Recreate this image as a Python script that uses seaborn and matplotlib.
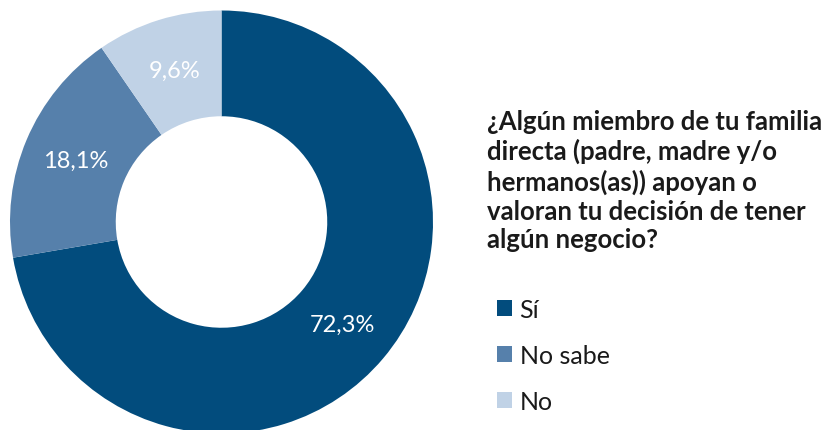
import numpy as np
import matplotlib.pyplot as plt
import seaborn as sns
from matplotlib.patches import Patch

categories = ["Sí", "No sabe", "No"]
values = [72.3, 18.1, 9.6]
pct_labels = ["72,3%", "18,1%", "9,6%"]
colors = ["#024c7d", "#5680ab", "#c0d2e6"]
title = ("¿Algún miembro de tu familia\ndirecta (padre, madre y/o\n"
         "hermanos(as)) apoyan o\nvaloran tu decisión de tener\nalgún negocio?")

sns.set_theme(style="white")
plt.rcParams["font.family"] = ["Lato", "DejaVu Sans"]

W, H = 831, 431
fig = plt.figure(figsize=(W / 100, H / 100), dpi=100)

# donut axes: centre (221.5, 208) px from bottom, radius 211.5 px
R = 211.5
ax = fig.add_axes([(221.5 - R) / W, (208 - R) / H, 2 * R / W, 2 * R / H])
wedges, _ = ax.pie(values, colors=colors, startangle=90, counterclock=False,
                   radius=1, wedgeprops=dict(width=0.5, linewidth=0))
ax.set_xlim(-1, 1)
ax.set_ylim(-1, 1)
ax.set_aspect("equal")
ax.axis("off")

# percentage labels in the middle of the ring
ang = 90.0
for v, lab in zip(values, pct_labels):
    mid = np.deg2rad(ang - v * 3.6 / 2)
    ax.text(0.75 * np.cos(mid), 0.75 * np.sin(mid), lab, color="white",
            fontsize=17, ha="center", va="center")
    ang -= v * 3.6

fig.text(487 / W, 1 - 110 / H, title, fontsize=18.5, fontweight="bold",
         color="#1a1a1a", ha="left", va="top", linespacing=1.24)

handles = [Patch(facecolor=c, edgecolor="none") for c in colors]
fig.legend(handles, categories, loc="upper left",
           bbox_to_anchor=(497 / W, 1 - 299 / H), frameon=False,
           fontsize=18, handlelength=0.6, handleheight=0.6,
           handletextpad=0.3, labelspacing=0.92, borderpad=0,
           borderaxespad=0, labelcolor="#1a1a1a")

fig.savefig("out.png", dpi=100)
